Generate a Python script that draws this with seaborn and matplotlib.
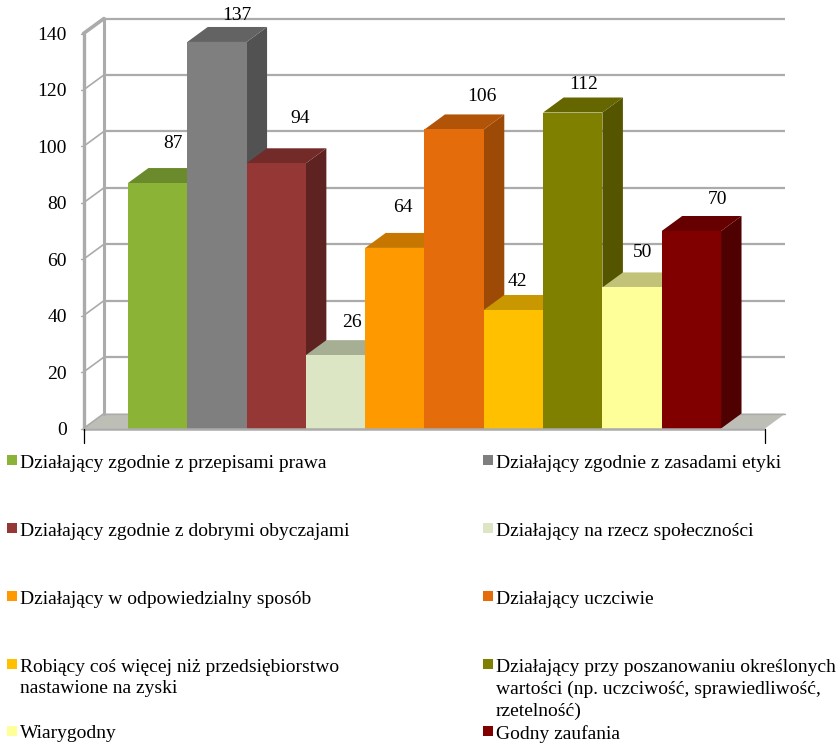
import matplotlib
matplotlib.use('Agg')
import matplotlib.pyplot as plt
import seaborn as sns
from matplotlib.patches import Polygon, Rectangle

# data
labels = ['Działający zgodnie z przepisami prawa',
          'Działający zgodnie z zasadami etyki',
          'Działający zgodnie z dobrymi obyczajami',
          'Działający na rzecz społeczności',
          'Działający w odpowiedzialny sposób',
          'Działający uczciwie',
          'Robiący coś więcej niż przedsiębiorstwo\nnastawione na zyski',
          'Działający przy poszanowaniu określonych\nwartości (np. uczciwość, sprawiedliwość,\nrzetelność)',
          'Wiarygodny',
          'Godny zaufania']
values = [87, 137, 94, 26, 64, 106, 42, 112, 50, 70]
front_colors = ['#8BB336', '#7F7F7F', '#953735', '#DCE6C4', '#FF9900',
                '#E46C0A', '#FFC000', '#808000', '#FFFF99', '#800000']
top_colors = ['#6B8A2B', '#636363', '#722B29', '#A6AF94', '#C77700',
              '#B25408', '#C99700', '#666600', '#C2C278', '#660000']
side_colors = ['#566F22', '#525252', '#5E2221', '#8A927B', '#A86400',
               '#9C4A06', '#A67D00', '#555500', '#A6A664', '#4F0000']
yticks = [0, 20, 40, 60, 80, 100, 120, 140]

# label offsets from bar centre/top, in pixels
label_dx = [15, 20, 24, 16, 8, 28, 4, 11, 10, 26]
label_dy = [40, 26, 45, 33, 40, 33, 28, 28, 35, 31]

W, H = 838, 744
sns.set_style('white')
plt.rcParams['font.family'] = ['Liberation Serif', 'DejaVu Serif']
FS = 14
GRAY = '#ABABAB'

fig = plt.figure(figsize=(W / 100, H / 100), dpi=100)
ax = fig.add_axes([83.5 / W, (H - 428.5) / H, 681.5 / W, 395 / H])

df_x = list(range(len(values)))
sns.barplot(x=df_x, y=values, hue=df_x, palette=front_colors, width=1.0,
            saturation=1, dodge=False, legend=False, linewidth=0, ax=ax, zorder=5)

unit = 59.35
xmin = -0.5 - 44.5 / unit
xmax = len(values) - 0.5 + 44 / unit
ax.set_xlim(xmin, xmax)
ax.set_ylim(0, 140)
dx = 20.5 / unit
dy = 15 / (395 / 140)

sns.despine(ax=ax, left=True, bottom=True)
ax.set_xticks([])
ax.set_yticks(yticks)
ax.set_yticklabels([str(t) for t in yticks], fontsize=FS)
ax.tick_params(axis='y', length=0, pad=12, colors='black')
ax.set_xlabel('')
ax.set_ylabel('')
ax.grid(False)

# floor
ax.add_patch(Polygon([(xmin, 0), (xmin + dx, dy), (xmax + dx, dy), (xmax, 0)],
                     closed=True, fc='#BDBFB7', ec='none', zorder=1, clip_on=False))

# back wall gridlines, side wall diagonals
for t in yticks:
    if t > 0:
        ax.plot([xmin + dx, xmax + dx], [t + dy, t + dy], color=GRAY, lw=1.6,
                zorder=1.5, clip_on=False, solid_capstyle='butt')
    ax.plot([xmin, xmin + dx], [t, t + dy], color=GRAY,
            lw=2.6 if t == 140 else 1.2, zorder=2, clip_on=False)
    ax.plot([xmin - 3 / unit, xmin], [t, t], color=GRAY, lw=1, zorder=2, clip_on=False)
ax.plot([xmin, xmin], [0, 140], color=GRAY, lw=2.4, zorder=2, clip_on=False)
ax.plot([xmin + dx, xmin + dx], [dy, 140 + dy], color=GRAY, lw=2.2, zorder=2, clip_on=False)
ax.plot([xmin + dx, xmax + dx], [dy, dy], color=GRAY, lw=1, zorder=1.5, clip_on=False)
ax.plot([xmin, xmax], [0, 0], color=GRAY, lw=1.8, zorder=6, clip_on=False, solid_capstyle='butt')

# black ticks under the axis ends
for xt in [xmin, xmax]:
    ax.plot([xt, xt], [0, -14.5 / (395 / 140)], color='black', lw=0.9, zorder=6, clip_on=False)

# 3d faces of each bar, left to right so the next bar covers the last one
for i, v in enumerate(values):
    l, r = i - 0.5, i + 0.5
    ax.add_patch(Polygon([(r, 0), (r + dx, dy), (r + dx, v + dy), (r, v)], closed=True,
                         fc=side_colors[i], ec='none', zorder=3 + i * 0.01, clip_on=False))
    ax.add_patch(Polygon([(l, v), (l + dx, v + dy), (r + dx, v + dy), (r, v)], closed=True,
                         fc=top_colors[i], ec='none', zorder=3 + i * 0.01, clip_on=False))

# value labels
for i, v in enumerate(values):
    ax.annotate(str(v), (i, v), xytext=(label_dx[i] * 0.72, label_dy[i] * 0.72),
                textcoords='offset points', ha='center', va='center',
                fontsize=FS, color='black', zorder=7, annotation_clip=False)

# legend, two columns with uneven rows like the original
legend_rows = [460, 460, 528, 528, 596, 596, 664, 664, 731, 731]
legend_cols = [7, 483, 7, 483, 7, 483, 7, 483, 7, 483]
for i, lab in enumerate(labels):
    x, y = legend_cols[i], legend_rows[i]
    fig.add_artist(Rectangle((x / W, (H - y - 5) / H), 10 / W, 10 / H, fc=front_colors[i], ec='none',
                             transform=fig.transFigure))
    fig.text((x + 13) / W, (H - y + 5.5) / H, lab, fontsize=FS, va='top', ha='left',
             color='black', linespacing=1.36)

fig.savefig('out.png', dpi=100, facecolor='white')
